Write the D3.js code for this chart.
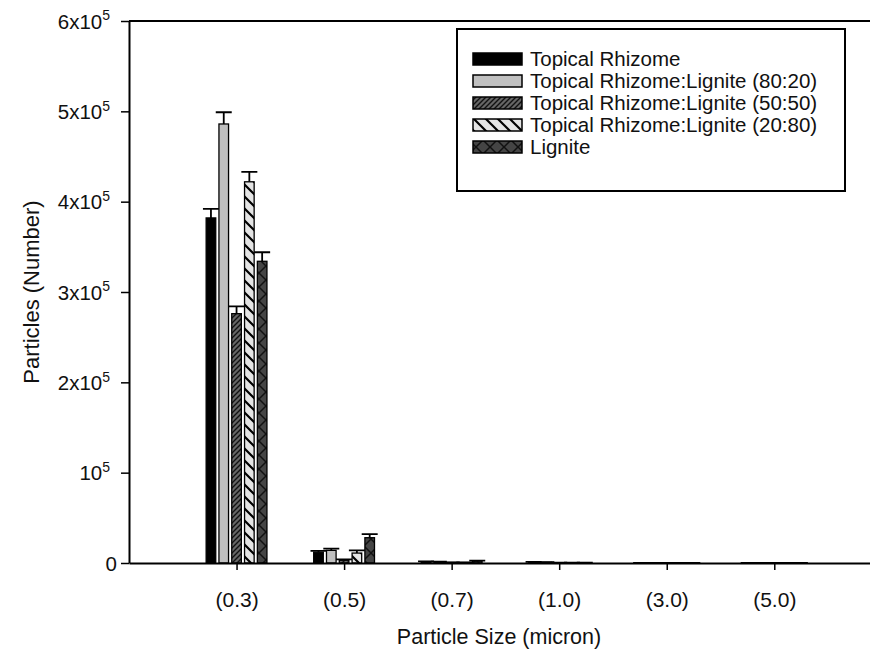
<!DOCTYPE html>
<html>
<head>
<meta charset="utf-8">
<script src="https://cdn.jsdelivr.net/npm/d3@7"></script>
<style>
body { margin: 0; background: #fff; }
text { font-family: Arial, "Liberation Sans", sans-serif; fill: #111; }
</style>
</head>
<body>
<script>
// categories and series
var categories = ["(0.3)", "(0.5)", "(0.7)", "(1.0)", "(3.0)", "(5.0)"];
var seriesNames = ["Topical Rhizome", "Topical Rhizome:Lignite (80:20)", "Topical Rhizome:Lignite (50:50)", "Topical Rhizome:Lignite (20:80)", "Lignite"];

var topical    = [382000, 12000, 1500, 1000, 150, 80];
var tr8020     = [486000, 14000, 1200, 800, 120, 60];
var tr5050     = [276000, 3000, 600, 300, 80, 40];
var tr2080     = [422000, 11000, 500, 300, 80, 40];
var lignite    = [334000, 28000, 2200, 400, 100, 50];

var topicalErr = [10000, 1500, 300, 200, 50, 20];
var tr8020Err  = [13000, 2000, 300, 200, 40, 20];
var tr5050Err  = [8000, 1000, 200, 100, 30, 10];
var tr2080Err  = [11000, 3000, 200, 100, 30, 10];
var ligniteErr = [10000, 4000, 400, 100, 30, 10];

var yTicks = [0, 100000, 200000, 300000, 400000, 500000, 600000];

var valores = [topical, tr8020, tr5050, tr2080, lignite];
var errores = [topicalErr, tr8020Err, tr5050Err, tr2080Err, ligniteErr];
var fills = ["#000", "#c0c0c0", "url(#p5050)", "url(#p2080)", "url(#pLig)"];

function graficar() {
    var w = 870;
    var h = 657;
    var left = 129, right = 870, top = 21, bottom = 563;

    var svg = d3.select("body")
        .append("svg")
        .attr("width", w)
        .attr("height", h);

    var defs = svg.append("defs");

    // 50:50 dense forward hatch
    var p1 = defs.append("pattern").attr("id", "p5050")
        .attr("patternUnits", "userSpaceOnUse").attr("width", 5).attr("height", 5);
    p1.append("rect").attr("width", 5).attr("height", 5).attr("fill", "#666");
    p1.append("path").attr("d", "M0,5 L5,0 M-1,1 L1,-1 M4,6 L6,4")
        .attr("stroke", "#111").attr("stroke-width", 1.4);

    // 20:80 sparse back hatch
    var p2 = defs.append("pattern").attr("id", "p2080")
        .attr("patternUnits", "userSpaceOnUse").attr("width", 12).attr("height", 12);
    p2.append("rect").attr("width", 12).attr("height", 12).attr("fill", "#e4e4e4");
    p2.append("path").attr("d", "M0,0 L12,12 M-3,9 L3,15 M9,-3 L15,3")
        .attr("stroke", "#000").attr("stroke-width", 2.2);

    // lignite cross hatch
    var p3 = defs.append("pattern").attr("id", "pLig")
        .attr("patternUnits", "userSpaceOnUse").attr("width", 14).attr("height", 14);
    p3.append("rect").attr("width", 14).attr("height", 14).attr("fill", "#454545");
    p3.append("path").attr("d", "M0,0 L14,14 M0,14 L14,0")
        .attr("stroke", "#111").attr("stroke-width", 1.5);

    // category index -> px, one step of empty space left of (0.3)
    var x = d3.scaleLinear().domain([-1, 5.89]).range([left, right]);
    var xIn = d3.scaleBand().domain(d3.range(seriesNames.length))
        .range([-30.4, 30.4]).paddingInner(0.25);
    var y = d3.scaleLinear().domain([0, 600000]).range([bottom, top]);

    // bars
    valores.forEach(function(serie, s) {
        var g = svg.append("g");
        g.selectAll("rect")
            .data(serie)
            .enter()
            .append("rect")
            .attr("x", function(d, i) { return x(i) + xIn(s); })
            .attr("width", xIn.bandwidth())
            .attr("y", function(d) { return y(d); })
            .attr("height", function(d) { return bottom - y(d); })
            .attr("fill", fills[s])
            .attr("stroke", "#000")
            .attr("stroke-width", 1.3);

        // upper error bars
        g.selectAll("path")
            .data(serie)
            .enter()
            .append("path")
            .attr("d", function(d, i) {
                var cx = x(i) + xIn(s) + xIn.bandwidth() / 2;
                var yt = y(d + errores[s][i]);
                return "M" + cx + "," + y(d) + "V" + yt + "M" + (cx - 8) + "," + yt + "H" + (cx + 8);
            })
            .attr("fill", "none")
            .attr("stroke", "#000")
            .attr("stroke-width", 1.8);
    });

    // frame: top line, x axis
    svg.append("line").attr("x1", left).attr("x2", right).attr("y1", top).attr("y2", top)
        .attr("stroke", "#000").attr("stroke-width", 2);

    var xAxis = d3.axisBottom(x)
        .tickValues(d3.range(categories.length))
        .tickFormat(function(i) { return categories[i]; })
        .tickSize(7).tickSizeOuter(0);
    var gx = svg.append("g").attr("transform", "translate(0," + bottom + ")").call(xAxis);
    gx.select(".domain").attr("stroke", "#000").attr("stroke-width", 2);
    gx.selectAll(".tick line").attr("stroke", "#000").attr("stroke-width", 1.5);
    gx.selectAll(".tick text").attr("font-size", 21).attr("y", 44).attr("dy", 0)
        .attr("fill", "#111").attr("font-family", "Arial, 'Liberation Sans', sans-serif");

    var yAxis = d3.axisLeft(y).tickValues(yTicks).tickSize(8).tickSizeOuter(0).tickFormat("");
    var gy = svg.append("g").attr("transform", "translate(" + left + ",0)").call(yAxis);
    gy.select(".domain").attr("stroke", "#000").attr("stroke-width", 2);
    gy.selectAll(".tick line").attr("stroke", "#000").attr("stroke-width", 1.5);

    // y tick labels with superscript
    gy.selectAll(".tick").each(function(d) {
        var t = d3.select(this).append("text")
            .attr("dy", "0.35em")
            .attr("text-anchor", "end")
            .attr("font-size", 20.5);
        if (d === 0) {
            t.attr("x", -12).text("0");
        } else {
            var n = d / 100000;
            t.attr("x", -19);
            t.append("tspan").text(n === 1 ? "10" : n + "x10");
            t.append("tspan").text("5").attr("font-size", 14).attr("dy", "-0.6em");
        }
    });

    // axis titles
    svg.append("text")
        .attr("x", 499)
        .attr("y", 644)
        .attr("text-anchor", "middle")
        .attr("font-size", 21.5)
        .text("Particle Size (micron)");

    svg.append("text")
        .attr("transform", "translate(39," + 292 + ") rotate(-90)")
        .attr("text-anchor", "middle")
        .attr("font-size", 22)
        .text("Particles (Number)");

    // legend
    var lg = svg.append("g");
    lg.append("rect")
        .attr("x", 457).attr("y", 29).attr("width", 388).attr("height", 162)
        .attr("fill", "#fff").attr("stroke", "#000").attr("stroke-width", 2);

    var items = lg.selectAll("g.item")
        .data(seriesNames)
        .enter()
        .append("g")
        .attr("class", "item")
        .attr("transform", function(d, i) { return "translate(0," + (59 + i * 22) + ")"; });

    items.append("rect")
        .attr("x", 473).attr("y", -6).attr("width", 49).attr("height", 12)
        .attr("fill", function(d, i) { return fills[i]; })
        .attr("stroke", "#000").attr("stroke-width", 1.5);

    items.append("text")
        .attr("x", 530)
        .attr("dy", "0.35em")
        .attr("font-size", 20.5)
        .text(function(d) { return d; });
}

graficar();
</script>
</body>
</html>
